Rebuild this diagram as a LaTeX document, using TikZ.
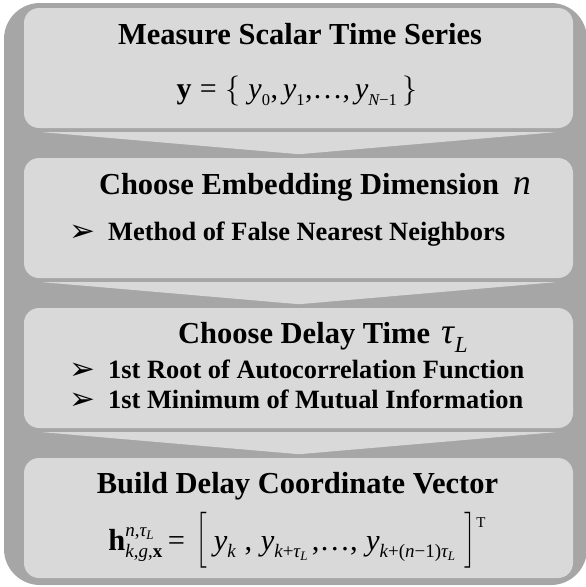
\RequirePackage{fix-cm}
\documentclass[tikz,border=0pt]{standalone}
\usepackage{amsmath}
\usepackage{graphicx}
\usepackage{fontspec}
\setmainfont{Liberation Serif}
\newfontfamily\dingfont{DejaVu Sans}
\usetikzlibrary{calc}
\DeclareMathSizes{30}{30}{16.5}{12}
\DeclareMathSizes{30.5}{30.5}{19}{13}
\definecolor{framegray}{HTML}{A6A6A6}
\definecolor{panelgray}{HTML}{D9D9D9}
% text-font pieces for formulas
\newcommand\vi[1]{\text{\normalfont\itshape #1}}
\newcommand\vr[1]{\text{\normalfont #1}}
\newcommand\vb[1]{\text{\normalfont\bfseries #1}}
\newcommand\bigsym[1]{{\mdseries\itshape\fontsize{36}{40}\selectfont #1}}
% square brackets stretched vertically only, so the strokes stay thin
\newcommand\tallopen{\smash{\scalebox{1}[1.25]{$\bigl[$}}}
\newcommand\tallclose{\smash{\scalebox{1}[1.25]{$\bigr]$}}}
\tikzset{
  panel/.style={fill=panelgray, rounded corners=15pt, minimum width=549pt,
    minimum height=120pt, inner sep=0pt},
  chevron/.style={fill=panelgray},
  heading/.style={font=\fontsize{30.5}{36}\selectfont\bfseries, inner sep=0pt, anchor=base},
  item/.style={font=\fontsize{26.4}{31}\selectfont\bfseries, inner sep=0pt, anchor=base west},
  bulletmark/.style={font=\fontsize{31}{34}\selectfont\dingfont, inner sep=0pt, anchor=base west},
  formulaA/.style={font=\fontsize{30}{36}\selectfont, inner sep=0pt, anchor=base},
  formulaB/.style={font=\fontsize{30.5}{36}\selectfont, inner sep=0pt, anchor=base}
}
\begin{document}
\begin{tikzpicture}[x=1pt,y=-1pt]
\useasboundingbox (0,0) rectangle (586,587);
% outer frame
\fill[framegray, rounded corners=36pt] (4,3) rectangle (587,585);
% step panels
\node[panel] (b1) at (298.5,68) {};
\node[panel] (b2) at (298.5,218) {};
\node[panel] (b3) at (298.5,368) {};
\node[panel] (b4) at (298.5,518) {};
% downward chevrons between the panels
\foreach \u in {b1,b2,b3}
  \fill[chevron] ($(\u.south west)+(19,4)$) -- ($(\u.south east)+(-18,4)$)
    -- ($(\u.south)+(0.5,26)$) -- cycle;
% step 1
\node[heading] (t1) at (300,44) {Measure Scalar Time Series};
\node[formulaA] (f1) at (297,98)
  {$\vb{y} \mathrel{\vr{=}} \{\; \vi{y}_{\vr{0}}\vr{,}\, \vi{y}_{\vr{1}}\vr{,…,}\, \vi{y}_{\vi{N}\vr{−1}} \,\}$};
% step 2
\node[heading] (t2) at (315,194) {Choose Embedding Dimension\hspace{14pt}\bigsym{n}};
\node[bulletmark] (m2) at (69,241) {➢};
\node[item] (i2) at (108,240) {Method of False Nearest Neighbors};
% step 3
\node[heading] (t3) at (323,343) {Choose Delay Time\hspace{11pt}\bigsym{τ\hspace{1pt}\raisebox{-9pt}{\fontsize{23}{25}\selectfont L}}};
\node[bulletmark] (m3a) at (69,379) {➢};
\node[item] (i3a) at (108,378) {1st Root of Autocorrelation Function};
\node[bulletmark] (m3b) at (69,409) {➢};
\node[item] (i3b) at (108,408) {1st Minimum of Mutual Information};
% step 4
\node[heading] (t4) at (297.5,493) {Build Delay Coordinate Vector};
\node[formulaB] (f4) at (297,550)
  {$\vb{h}^{\vi{n}\vr{,}\vi{τ}_{\vi{L}}}_{\vi{k}\vr{,}\vi{g}\vr{,}\vb{x}}\mskip3mu\vr{=}\mskip6mu\tallopen\mskip4mu
    \vi{y}_{\vi{k}}\mskip5mu\vr{,}\mskip5mu\vi{y}_{\vi{k}\vr{+}\vi{τ}_{\vi{L}}}\mskip2mu\vr{,…,}\mskip5mu
    \vi{y}_{\vi{k}\vr{+(}\vi{n}\vr{−1)}\vi{τ}_{\vi{L}}}\mskip5mu\tallclose\raisebox{23pt}{\fontsize{15}{18}\selectfont T}$};
\end{tikzpicture}
\end{document}
